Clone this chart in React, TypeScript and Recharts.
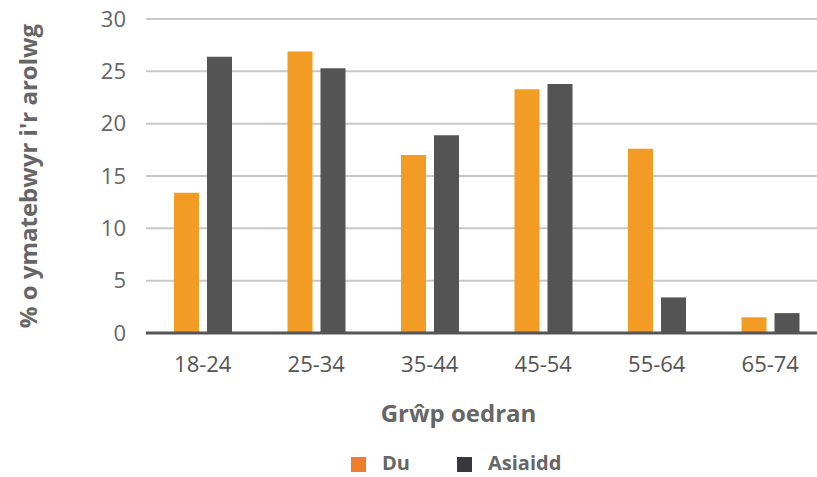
import { BarChart, Bar, XAxis, YAxis, CartesianGrid, Legend } from 'recharts';

const categories = ['18-24', '25-34', '35-44', '45-54', '55-64', '65-74'];
const du = [13.4, 26.9, 17.0, 23.3, 17.6, 1.5];
const asiaidd = [26.4, 25.3, 18.9, 23.8, 3.4, 1.9];
const yTicks = [0, 5, 10, 15, 20, 25, 30];

const seriesNames = ['Du', 'Asiaidd'];
const barColors = ['#F39C25', '#545454'];
const legendColors = ['#EE7D2E', '#37373D'];

const data = categories.map((group, i) => ({ group, du: du[i], asiaidd: asiaidd[i] }));

const font = '"Open Sans", sans-serif';

function LegendBox() {
  return (
    <div style={{ display: 'flex', alignItems: 'center', height: 20, lineHeight: '20px', fontFamily: font, fontWeight: 700, fontSize: 20, color: '#666', whiteSpace: 'nowrap' }}>
      {seriesNames.map((name, i) => (
        <div key={name} style={{ display: 'flex', alignItems: 'center', marginRight: i === 0 ? 47 : 0 }}>
          <span style={{ width: 15, height: 15, background: legendColors[i], display: 'inline-block', marginTop: 2 }} />
          <span style={{ marginLeft: 16 }}>{name}</span>
        </div>
      ))}
    </div>
  );
}

export default function App() {
  return (
    <div style={{ width: 817, height: 477, position: 'relative', background: '#fff' }}>
      <style>{'body { margin: 0; overflow: hidden; }'}</style>
      <BarChart
        width={840}
        height={477}
        data={data}
        margin={{ top: 19, right: 13, left: 0, bottom: 104 }}
        barSize={25}
        barGap={8}
      >
        <CartesianGrid vertical={false} stroke="#C8C8C8" strokeWidth={2} />
        <XAxis
          dataKey="group"
          height={40}
          tickLine={false}
          tickSize={0}
          tickMargin={23}
          axisLine={{ stroke: '#555', strokeWidth: 3 }}
          tick={{ fill: '#555', fontSize: 22, fontFamily: font }}
          label={{ value: 'Grŵp oedran', position: 'bottom', offset: 32, dx: -28, fill: '#666', fontSize: 24, fontWeight: 700, fontFamily: font }}
        />
        <YAxis
          width={146}
          domain={[0, 30]}
          ticks={yTicks}
          axisLine={false}
          tickLine={false}
          tickSize={0}
          tickMargin={20}
          tick={{ fill: '#666', fontSize: 22, fontFamily: font }}
          label={{ value: "% o ymatebwyr i'r arolwg", angle: -90, position: 'center', dx: -45, fill: '#666', fontSize: 24, fontWeight: 700, fontFamily: font }}
        />
        <Legend
          verticalAlign="middle"
          align="center"
          layout="horizontal"
          content={<LegendBox />}
          wrapperStyle={{ top: 453, left: 351, width: 240, height: 20 }}
        />
        <Bar dataKey="du" name={seriesNames[0]} fill={barColors[0]} isAnimationActive={false} />
        <Bar dataKey="asiaidd" name={seriesNames[1]} fill={barColors[1]} isAnimationActive={false} />
      </BarChart>
    </div>
  );
}
